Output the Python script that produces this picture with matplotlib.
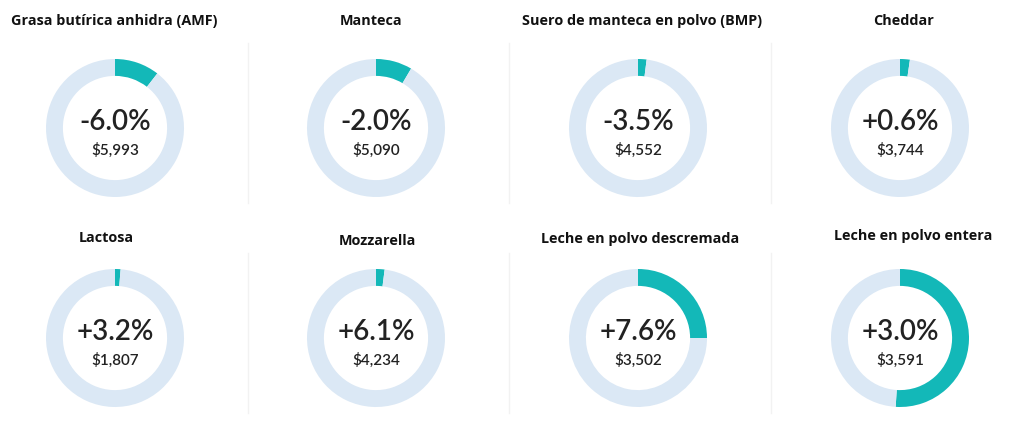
import matplotlib.pyplot as plt
from matplotlib.lines import Line2D

plt.rcParams['font.family'] = ['Lato', 'DejaVu Sans']

titles = ["Grasa butírica anhidra (AMF)", "Manteca", "Suero de manteca en polvo (BMP)", "Cheddar",
          "Lactosa", "Mozzarella", "Leche en polvo descremada", "Leche en polvo entera"]
changes = ["-6.0%", "-2.0%", "-3.5%", "+0.6%", "+3.2%", "+6.1%", "+7.6%", "+3.0%"]
prices = ["$5,993", "$5,090", "$4,552", "$3,744", "$1,807", "$4,234", "$3,502", "$3,591"]
# share of the ring that is filled (teal)
shares = [0.105, 0.085, 0.02, 0.023, 0.013, 0.02, 0.25, 0.51]

teal = "#13b8b8"
light = "#dbe8f5"
W, H = 1024, 422

fig = plt.figure(figsize=(W / 100, H / 100), dpi=100)

# layout in pixels (from the top-left corner)
col_x = [115, 376, 638, 900]
row_y = [128, 338]
radius = 69
title_x = [114, 371, 642, 904, 106, 377, 640, 913]
title_y = [21, 21, 21, 21, 238, 241, 239, 236]

for i in range(8):
    cx = col_x[i % 4]
    cy = row_y[i // 4]
    ax = fig.add_axes([(cx - radius) / W, 1 - (cy + radius) / H, 2 * radius / W, 2 * radius / H])
    ax.pie([shares[i], 1 - shares[i]], colors=[teal, light], startangle=90, counterclock=False,
           wedgeprops=dict(width=0.245, linewidth=0))
    ax.set_xlim(-1, 1)
    ax.set_ylim(-1, 1)
    ax.set_aspect('equal')
    ax.axis('off')
    ax.text(0, 0.08, changes[i], ha='center', va='center', fontsize=20, color="#222222",
            fontweight='semibold')
    ax.text(0, -0.33, prices[i], ha='center', va='center', fontsize=11, color="#222222",
            fontweight='semibold')
    fig.text(title_x[i] / W, 1 - title_y[i] / H, titles[i], ha='center', va='center',
             fontsize=10.4, fontweight='bold', color="#111111", family=['Open Sans', 'DejaVu Sans'])

# faint separators between the columns
for row in range(2):
    for k in range(3):
        x = (col_x[k] + col_x[k + 1]) / 2 / W + 0.002
        y0 = 1 - (row_y[row] + 75) / H
        y1 = 1 - (row_y[row] - 85) / H
        fig.add_artist(Line2D([x, x], [y0, y1], color="#f2f2f2", linewidth=1))

fig.savefig("out.png", dpi=100)
